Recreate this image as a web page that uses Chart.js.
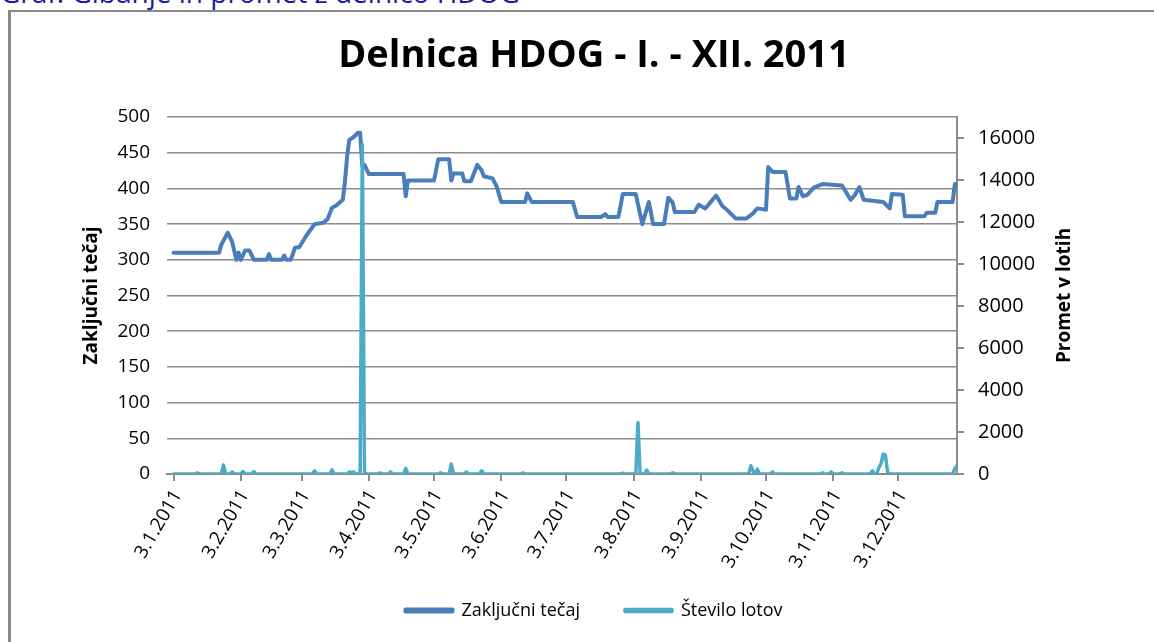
<!DOCTYPE html>
<html>
<head>
<meta charset="utf-8">
<script src="https://cdn.jsdelivr.net/npm/chart.js@4.4.1/dist/chart.umd.min.js"></script>
<style>
  body { margin: 0; background: #fff; overflow: hidden; }
  #caption {
    position: absolute; left: 0; top: -27px; line-height: 1;
    font: 28px "Open Sans", sans-serif; color: #1a1a9e; white-space: nowrap;
  }
  #frame {
    position: absolute; left: 8px; top: 10px;
    border-left: 3px solid #8a8a8a; border-top: 2px solid #8a8a8a;
    width: 1143px; height: 630px; background: #fff;
  }
</style>
</head>
<body>
<div id="caption">Graf: Gibanje in promet z delnico HDOG</div>
<div id="frame"><canvas id="myChart" width="1143" height="630"></canvas></div>
<script>
// zaključni tečaj (closing price)
var priceDates = [
    '3.1.2011', '24.1.2011', '25.1.2011', '28.1.2011', '30.1.2011', '1.2.2011', '2.2.2011', '3.2.2011',
    '5.2.2011', '7.2.2011', '9.2.2011', '15.2.2011', '16.2.2011', '17.2.2011', '22.2.2011', '23.2.2011',
    '24.2.2011', '26.2.2011', '28.2.2011', '2.3.2011', '5.3.2011', '9.3.2011', '13.3.2011', '15.3.2011',
    '17.3.2011', '19.3.2011', '22.3.2011', '23.3.2011', '24.3.2011', '25.3.2011', '27.3.2011', '29.3.2011',
    '30.3.2011', '31.3.2011', '1.4.2011', '3.4.2011', '19.4.2011', '20.4.2011', '21.4.2011', '3.5.2011',
    '5.5.2011', '10.5.2011', '11.5.2011', '12.5.2011', '16.5.2011', '17.5.2011', '20.5.2011', '23.5.2011',
    '25.5.2011', '26.5.2011', '30.5.2011', '1.6.2011', '3.6.2011', '14.6.2011', '15.6.2011', '17.6.2011',
    '6.7.2011', '8.7.2011', '19.7.2011', '21.7.2011', '22.7.2011', '27.7.2011', '29.7.2011', '4.8.2011',
    '7.8.2011', '10.8.2011', '12.8.2011', '17.8.2011', '19.8.2011', '21.8.2011', '22.8.2011', '31.8.2011',
    '2.9.2011', '5.9.2011', '7.9.2011', '10.9.2011', '13.9.2011', '15.9.2011', '19.9.2011', '24.9.2011',
    '27.9.2011', '29.9.2011', '3.10.2011', '4.10.2011', '6.10.2011', '12.10.2011', '14.10.2011', '17.10.2011',
    '18.10.2011', '20.10.2011', '22.10.2011', '25.10.2011', '29.10.2011', '7.11.2011', '11.11.2011', '13.11.2011',
    '15.11.2011', '17.11.2011', '26.11.2011', '29.11.2011', '30.11.2011', '5.12.2011', '6.12.2011', '15.12.2011',
    '16.12.2011', '20.12.2011', '21.12.2011', '28.12.2011', '29.12.2011', '30.12.2011'
];
var prices = [
    310, 310, 321, 338, 325, 300, 310, 300,
    313, 313, 300, 300, 308, 300, 300, 306,
    300, 300, 317, 318, 333, 350, 352, 357,
    373, 376, 384, 410, 445, 468, 472, 478,
    478, 431, 433, 420, 420, 389, 411, 411,
    441, 441, 411, 421, 421, 410, 410, 433,
    425, 417, 414, 402, 381, 381, 393, 381,
    381, 360, 360, 364, 360, 360, 392, 392,
    350, 381, 350, 350, 387, 380, 367, 367,
    377, 372, 379, 390, 375, 370, 358, 358,
    365, 372, 370, 430, 423, 423, 386, 386,
    402, 389, 391, 401, 406, 404, 384, 391,
    402, 384, 381, 372, 392, 391, 361, 361,
    366, 366, 381, 381, 406, 406
];

// število lotov (volume)
var lotDates = [
    '3.1.2011', '13.1.2011', '14.1.2011', '15.1.2011', '25.1.2011', '26.1.2011', '27.1.2011', '29.1.2011',
    '30.1.2011', '31.1.2011', '3.2.2011', '4.2.2011', '5.2.2011', '8.2.2011', '9.2.2011', '10.2.2011',
    '8.3.2011', '9.3.2011', '10.3.2011', '16.3.2011', '17.3.2011', '18.3.2011', '24.3.2011', '25.3.2011',
    '26.3.2011', '27.3.2011', '28.3.2011', '29.3.2011', '30.3.2011', '31.3.2011', '1.4.2011', '2.4.2011',
    '7.4.2011', '8.4.2011', '9.4.2011', '12.4.2011', '13.4.2011', '14.4.2011', '19.4.2011', '20.4.2011',
    '21.4.2011', '5.5.2011', '6.5.2011', '7.5.2011', '10.5.2011', '11.5.2011', '12.5.2011', '17.5.2011',
    '18.5.2011', '19.5.2011', '24.5.2011', '25.5.2011', '26.5.2011', '12.6.2011', '13.6.2011', '14.6.2011',
    '28.7.2011', '29.7.2011', '30.7.2011', '4.8.2011', '5.8.2011', '6.8.2011', '8.8.2011', '9.8.2011',
    '10.8.2011', '20.8.2011', '21.8.2011', '22.8.2011', '25.9.2011', '26.9.2011', '27.9.2011', '28.9.2011',
    '29.9.2011', '30.9.2011', '5.10.2011', '6.10.2011', '7.10.2011', '28.10.2011', '29.10.2011', '30.10.2011',
    '1.11.2011', '2.11.2011', '3.11.2011', '6.11.2011', '7.11.2011', '8.11.2011', '20.11.2011', '21.11.2011',
    '22.11.2011', '23.11.2011', '24.11.2011', '25.11.2011', '26.11.2011', '27.11.2011', '28.11.2011', '29.11.2011',
    '28.12.2011', '29.12.2011', '30.12.2011'
];
var lots = [
    0, 0, 50, 0, 0, 430, 0, 0,
    100, 0, 0, 120, 0, 0, 120, 0,
    0, 150, 0, 0, 200, 0, 0, 100,
    60, 100, 0, 0, 100, 15700, 100, 0,
    0, 50, 0, 0, 100, 0, 0, 270,
    0, 0, 60, 0, 0, 480, 0, 0,
    100, 0, 0, 150, 0, 0, 50, 0,
    0, 40, 0, 0, 2450, 0, 0, 190,
    0, 0, 60, 0, 0, 390, 150, 0,
    230, 0, 0, 100, 0, 0, 60, 0,
    0, 100, 0, 0, 60, 0, 0, 150,
    0, 0, 300, 500, 950, 900, 100, 0,
    0, 250, 400
];

var tickDates = ['3.1.2011', '3.2.2011', '3.3.2011', '3.4.2011', '3.5.2011', '3.6.2011',
    '3.7.2011', '3.8.2011', '3.9.2011', '3.10.2011', '3.11.2011', '3.12.2011'];
var priceTicks = [0, 50, 100, 150, 200, 250, 300, 350, 400, 450, 500];
var lotTicks = [0, 2000, 4000, 6000, 8000, 10000, 12000, 14000, 16000];

var chartTitle = 'Delnica HDOG - I. - XII. 2011';
var leftTitle = 'Zaključni tečaj';
var rightTitle = 'Promet v lotih';

// days since 3.1.2011
function dayOf(s) {
    var p = s.split('.').map(Number);
    return (Date.UTC(p[2], p[1] - 1, p[0]) - Date.UTC(2011, 0, 3)) / 86400000;
}
var tickDays = tickDates.map(dayOf);

var gridGray = '#8c8c8c';
var font = '"Open Sans", sans-serif';

// right axis title reads bottom-to-top like the left one
var rightTitlePlugin = {
    id: 'rightTitle',
    afterDraw: function (chart) {
        var s = chart.scales.y1, ctx = chart.ctx;
        ctx.save();
        ctx.translate(s.left + 108, (chart.chartArea.top + chart.chartArea.bottom) / 2);
        ctx.rotate(-Math.PI / 2);
        ctx.font = 'bold 19px ' + font;
        ctx.fillStyle = '#000';
        ctx.textAlign = 'center';
        ctx.textBaseline = 'middle';
        ctx.fillText(rightTitle, 0, 0);
        ctx.restore();
    }
};

var chartArea = document.getElementById('myChart').getContext('2d');

var myChart = new Chart(chartArea, {
    type: 'line',
    data: {
        datasets: [{
            label: 'Zaključni tečaj',
            data: priceDates.map(function (d, i) { return { x: dayOf(d), y: prices[i] }; }),
            borderColor: '#4a7ebb',
            backgroundColor: '#4a7ebb',
            borderWidth: 4,
            pointRadius: 0,
            borderJoinStyle: 'round',
            borderCapStyle: 'round',
            yAxisID: 'y',
            order: 1
        }, {
            label: 'Število lotov',
            data: lotDates.map(function (d, i) { return { x: dayOf(d), y: lots[i] }; }),
            borderColor: '#4bacc6',
            backgroundColor: '#4bacc6',
            borderWidth: 3.5,
            pointRadius: 0,
            borderJoinStyle: 'round',
            borderCapStyle: 'round',
            yAxisID: 'y1',
            order: 0
        }]
    },
    options: {
        responsive: false,
        animation: false,
        layout: { padding: { left: 23, right: 0, top: 0, bottom: 12.5 } },
        plugins: {
            tooltip: { enabled: false },
            title: {
                display: true,
                text: chartTitle,
                color: '#000',
                font: { family: font, size: 38, weight: 'bold' },
                padding: { top: 21, bottom: 38.4 }
            },
            legend: {
                position: 'bottom',
                labels: {
                    color: '#000',
                    font: { family: font, size: 18 },
                    boxWidth: 47,
                    boxHeight: 2,
                    padding: 45,
                    sort: function (a, b) { return a.datasetIndex - b.datasetIndex; }
                }
            }
        },
        scales: {
            x: {
                type: 'linear',
                min: -3,
                max: 361,
                afterBuildTicks: function (axis) {
                    axis.ticks = tickDays.map(function (v) { return { value: v }; });
                },
                afterFit: function (axis) {
                    axis.height = 82.5;
                    // labels hang below the shortened box, so don't clip them to it
                    axis._computeLabelArea = function () { return undefined; };
                },
                ticks: {
                    autoSkip: false,
                    maxRotation: 60,
                    minRotation: 60,
                    padding: 5,
                    labelOffset: 4,
                    color: '#000',
                    font: { family: font, size: 19 },
                    callback: function (value) {
                        var i = tickDays.indexOf(value);
                        return i >= 0 ? tickDates[i] : '';
                    }
                },
                grid: { drawOnChartArea: false, drawTicks: true, tickLength: 7, color: gridGray, lineWidth: 2 },
                border: { display: true, color: gridGray, width: 2 }
            },
            y: {
                position: 'left',
                min: 0,
                max: 500,
                afterBuildTicks: function (axis) {
                    axis.ticks = priceTicks.map(function (v) { return { value: v }; });
                },
                afterFit: function (axis) { axis.width = 133; },
                ticks: { padding: 17, color: '#000', font: { family: font, size: 19 } },
                grid: { color: gridGray, lineWidth: 1.6, drawTicks: false },
                border: { display: false },
                title: {
                    display: true,
                    text: leftTitle,
                    color: '#000',
                    font: { family: font, size: 19, weight: 'bold' },
                    padding: { top: 46.6, bottom: 0 }
                }
            },
            y1: {
                position: 'right',
                min: 0,
                max: 17000,
                afterBuildTicks: function (axis) {
                    axis.ticks = lotTicks.map(function (v) { return { value: v }; });
                },
                afterFit: function (axis) { axis.width = 197; },
                ticks: {
                    padding: 14, color: '#000', font: { family: font, size: 20 },
                    callback: function (value) { return String(value); }
                },
                grid: { drawOnChartArea: false, drawTicks: true, tickLength: 7, color: gridGray, lineWidth: 2 },
                border: { display: true, color: gridGray, width: 2 }
            }
        }
    },
    plugins: [rightTitlePlugin]
});
</script>
</body>
</html>
